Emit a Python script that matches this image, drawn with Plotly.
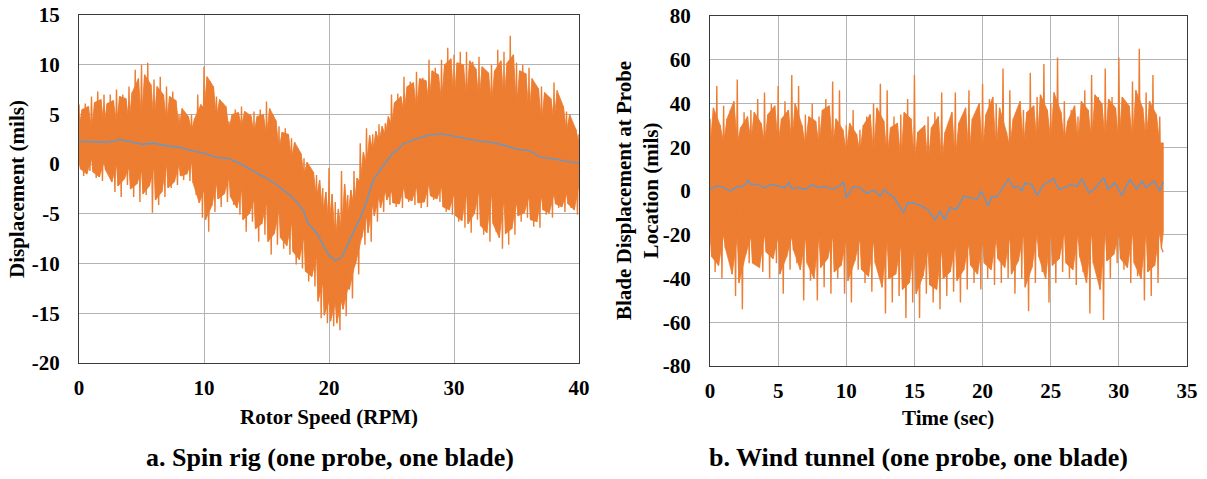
import plotly.graph_objects as go

# ---------------- Left panel: Spin rig ----------------
spin_mean_x = [0, 1, 2, 3, 3.2, 4, 5, 6, 7, 8, 9, 10, 11, 12, 13, 14, 15, 16, 17, 17.5,
               18, 18.3, 19, 20, 20.5, 21, 21.5, 22, 22.5, 23, 23.5, 24, 24.5, 25, 25.5,
               26, 27, 28, 29, 30, 31, 32, 33, 34, 35, 36, 37, 38, 39, 40]
spin_mean_y = [2.28, 2.25, 2.2, 2.35, 2.5, 2.3, 2.0, 2.1, 1.85, 1.7, 1.35, 1.1, 0.67, 0.55,
               0.0, -0.74, -1.4, -2.25, -3.25, -3.9, -4.8, -5.9, -6.9, -9.2, -9.7, -9.4,
               -8.1, -6.8, -5.4, -3.8, -1.7, -0.74, 0.1, 0.94, 1.44, 2.1, 2.55, 2.95, 3.05,
               2.8, 2.55, 2.35, 2.2, 1.9, 1.5, 1.35, 0.67, 0.54, 0.27, 0.1]

spin_core_x = [0, 1, 2, 3, 4, 5, 6, 7, 8, 9, 10, 11, 12, 13, 14, 15, 16, 17, 18, 19, 19.5,
               20, 20.5, 21, 21.5, 22, 22.5, 23, 23.5, 24, 24.5, 25, 26, 27, 28, 29, 30,
               31, 32, 33, 34, 35, 36, 37, 38, 39, 40]
spin_core_hi = [3.8, 3.4, 3.9, 4.1, 4.3, 4.6, 4.3, 4.3, 3.8, 3.4, 5.6, 4.8, 3.6, 3.8, 3.2,
                2.9, 1.6, 0.6, -1.0, -3.3, -4.8, -6.0, -7.6, -6.8, -5.4, -4.1, -1.8,
                0.0, 1.3, 2.3, 3.0, 4.0, 5.2, 5.6, 6.2, 6.4, 6.5, 6.7, 6.4, 6.2, 6.4,
                5.8, 5.0, 4.3, 4.3, 3.3, 2.1]
spin_core_lo = [0.2, 0.5, 0.2, -0.1, -0.4, -0.7, -0.4, -0.1, -0.1, 0.2, -2.6,
                -2.0, -1.4, -2.6, -3.6, -3.9, -4.6, -5.9, -7.3, -9.3, -12.0, -13.8, -14.0,
                -13.8, -12.5, -10.5, -7.9, -5.3, -4.0, -3.3, -2.7, -2.7, -2.3, -2.3, -2.0,
                -2.3, -3.0, -3.0, -2.7, -3.0, -3.6, -3.9, -3.3, -3.3, -3.0, -3.0, -2.0]

# tallest spike in each half RPM (upward)
spin_peak_x = [0.5 * k for k in range(81)]
spin_peak_y = [6.0, 6.1, 6.8, 7.3, 7.0, 7.0, 7.5, 7.0, 7.8, 9.5, 10.0, 10.2, 8.5, 8.8, 7.8,
               7.3, 5.0, 5.0, 5.0, 7.0, 9.8, 8.3, 6.8, 6.1, 4.3, 5.5, 5.8, 4.8, 5.3, 5.5,
               6.3, 5.0, 3.8, 3.6, 2.6, 1.6, 0.6, -2.1, -1.1, -2.4, -0.4, -3.8, -0.7, -3.1,
               -0.7, 2.1, 3.6, 3.0, 4.0, 4.1, 7.0, 7.1, 8.8, 8.3, 9.3, 8.7, 10.5, 9.7, 10.5,
               11.7, 11.0, 11.3, 11.3, 10.3, 10.8, 8.5, 10.0, 11.5, 11.3, 12.9, 10.2, 10.0,
               9.7, 7.8, 7.8, 6.0, 8.2, 6.3, 5.3, 3.5, 3.0]
# deepest spike in each half RPM (downward)
spin_trough_x = [0.375 + 0.5 * k for k in range(80)]
spin_trough_y = [-1.2, -0.7, -1.4, -1.7, -0.9, -2.8, -3.3, -2.1, -3.3, -3.8, -3.1, -4.9,
                 -4.1, -3.3, -2.4, -2.1, -1.6, -1.7, -3.1, -5.4, -6.8, -4.8, -4.3, -3.8,
                 -4.1, -5.1, -6.8, -5.8, -7.8, -7.1, -9.1, -8.1, -8.5, -9.1, -10.1, -10.5,
                 -11.8, -12.3, -15.5, -16.0, -16.3, -16.7, -15.3, -13.5, -11.1, -8.1, -7.8,
                 -5.8, -4.8, -4.1, -4.3, -4.4, -3.8, -4.1, -4.4, -4.3, -3.6, -3.8, -4.8,
                 -5.1, -5.8, -6.4, -6.9, -5.6, -7.1, -7.8, -6.8, -8.5, -8.1, -7.1, -5.8,
                 -5.4, -6.3, -6.4, -5.1, -5.4, -4.4, -4.8, -4.4, -5.1]
# smaller spikes seen between the big ones
spin_minor_peak_x = [0.25 + 0.5 * k for k in range(80)]
spin_minor_peak_y = [5.5, 5.8, 6.2, 6.5, 6.1, 6.4, 6.8, 6.6,
                     7.2, 8.6, 9.0, 8.0, 7.8, 7.0, 6.8, 6.4,
                     5.6, 4.8, 4.6, 6.0, 8.8, 7.8, 6.5, 5.8,
                     5.0, 5.2, 5.3, 4.9, 4.8, 5.0, 5.6, 4.4,
                     3.2, 3.0, 2.2, 1.1, 0.2, -0.8, -1.6, -2.8,
                     -3.0, -4.5, -2.0, -2.6, -1.4, 1.2, 2.9, 3.3,
                     3.8, 4.8, 6.2, 6.8, 7.8, 8.2, 8.6, 8.4,
                     9.4, 9.0, 10.0, 10.6, 10.2, 10.0, 10.4, 9.6,
                     9.8, 9.2, 9.4, 10.4, 10.2, 11.0, 9.4, 9.1,
                     8.6, 7.6, 7.2, 6.6, 7.4, 5.8, 5.0, 3.5]
spin_minor_trough_x = [0.125 + 0.5 * k for k in range(80)]
spin_minor_trough_y = [-0.5, -1.0, -0.8, -1.3, -0.6, -1.8, -2.2, -1.5,
                       -2.5, -2.0, -3.0, -2.2, -3.6, -2.8, -2.4, -1.8,
                       -1.2, -1.0, -1.9, -3.9, -5.6, -4.2, -3.5, -3.0,
                       -3.3, -4.4, -5.6, -5.0, -6.5, -6.0, -7.8, -7.0,
                       -7.4, -8.2, -8.8, -9.6, -10.8, -11.3, -13.8, -15.2,
                       -15.8, -16.0, -14.6, -12.6, -10.0, -7.4, -6.9, -5.2,
                       -4.4, -3.6, -3.9, -4.0, -3.4, -3.7, -3.9, -3.8,
                       -3.2, -3.5, -4.3, -4.6, -5.2, -5.7, -6.0, -5.0,
                       -6.2, -6.9, -6.0, -7.4, -7.0, -6.5, -5.2, -4.9,
                       -5.6, -5.8, -4.6, -4.9, -4.0, -4.3, -4.0, -4.6]

spin_xticks = [0, 10, 20, 30, 40]
spin_xtext = ["0", "10", "20", "30", "40"]
spin_yticks = [-20, -15, -10, -5, 0, 5, 10, 15]
spin_ytext = ["-20", "-15", "-10", "-5", "0", "5", "10", "15"]

# ---------------- Right panel: Wind tunnel ----------------
wind_mean_t = [0, 0.5, 1, 1.5, 2, 2.5, 2.8, 3, 3.5, 4, 4.5, 5, 5.5, 5.8, 6, 6.5, 7, 7.5,
               8, 8.5, 9, 9.5, 9.8, 10, 10.5, 11, 11.5, 12, 12.5, 12.8, 13, 13.5, 14,
               14.2, 14.5, 15, 15.5, 16, 16.5, 16.9, 17.2, 17.6, 18.1, 18.6, 19.1, 19.6,
               19.9, 20.4, 20.7, 21.0, 21.4, 21.9, 22.3, 22.6, 22.9, 23.1, 23.6, 24.0,
               24.5, 25.2, 25.6, 26.0, 26.5, 26.9, 27.3, 27.8, 28.2, 28.9, 29.2, 29.7,
               30.2, 30.8, 31.3, 31.7, 32.0, 32.6, 33.0, 33.26]
wind_mean_y = [0.8, 2.3, 1.5, 0.0, 2.0, 2.3, 5.0, 3.0, 3.0, 1.5, 3.0, 2.3, 1.5, 3.8, 1.0,
               1.5, 0.8, 3.0, 1.5, 2.0, 0.8, 2.3, 4.1, -3.0, 2.0, 1.5, -1.1, 0.5, -2.3,
               0.8, -0.8, -3.0, -7.6, -9.9, -5.3, -5.6, -6.9, -8.4, -13.3, -9.1, -13.3,
               -7.6, -8.4, -2.3, -3.0, -3.8, 0.0, -6.9, -2.3, -3.0, 0.8, 5.6, 1.5, 2.3,
               0.0, 3.5, 3.0, -2.0, 3.0, 5.6, 0.8, 1.5, 3.0, 2.0, 5.6, -0.8, 0.8, 6.1,
               0.8, 3.8, -2.0, 5.3, 1.0, 4.6, 1.5, 4.6, 0.0, 4.1]

wind_core_t = [0, 1, 2, 3, 4, 5, 6, 7, 8, 9, 10, 11, 12, 13, 14, 15, 16, 17, 18, 19, 20,
               21, 22, 23, 24, 25, 26, 27, 28, 29, 30, 31, 32, 33, 33.26]
wind_core_hi = [20, 22, 22, 23, 22, 22, 22, 21, 21, 20, 18, 18, 17, 16, 14, 13, 12, 12,
                14, 16, 18, 18, 20, 21, 22, 23, 23, 22, 23, 23, 22, 23, 23, 22, 22]
wind_core_lo = [-20, -20, -21, -21, -20, -21, -21, -21, -21, -21, -22, -22, -23, -23,
                -25, -26, -27, -27, -25, -24, -23, -22, -21, -20, -20, -19, -19, -20,
                -19, -19, -20, -19, -19, -19, -19]

wind_peak_t = [0.5 * k for k in range(67)]
wind_peak_y = [33, 48, 39, 37, 51, 36, 37, 42, 45, 40, 48, 41, 53, 48, 35, 40, 34, 42, 50,
               46, 30, 37, 28, 34, 40, 49, 46, 34, 35, 42, 53, 28, 34, 36, 45, 30, 45, 34,
               46, 31, 49, 42, 40, 56, 46, 30, 37, 54, 43, 58, 40, 61, 41, 37, 34, 46, 53,
               43, 56, 43, 61, 40, 50, 65, 45, 53, 34]
wind_trough_t = [0.375 + 0.5 * k for k in range(66)] + [33.25]
wind_trough_y = [-37, -40, -27, -48, -54, -33, -31, -37, -40, -33, -47, -36, -33, -50,
                 -41, -50, -44, -47, -40, -47, -51, -36, -42, -46, -36, -56, -51, -48,
                 -58, -51, -58, -47, -51, -54, -48, -46, -51, -45, -42, -45, -40, -43,
                 -42, -40, -47, -40, -55, -42, -37, -51, -42, -37, -40, -43, -37, -56,
                 -37, -59, -40, -33, -36, -42, -39, -50, -48, -42, -28]
wind_minor_peak_t = [0.25 + 0.5 * k for k in range(66)]
wind_minor_peak_y = [38, 30, 33, 41, 29, 34, 36, 31, 35, 39,
                     33, 37, 40, 30, 34, 32, 37, 39, 33, 28,
                     31, 26, 30, 35, 38, 32, 29, 31, 36, 33,
                     27, 30, 29, 34, 27, 36, 31, 38, 33, 40,
                     35, 43, 38, 27, 33, 41, 36, 39, 44, 37,
                     45, 36, 32, 39, 41, 37, 44, 40, 42, 38,
                     43, 39, 46, 38, 41, 35]
wind_minor_trough_t = [0.125 + 0.5 * k for k in range(67)]
wind_minor_trough_y = [-30, -34, -26, -38, -42, -29, -33, -35, -28, -31,
                       -38, -30, -27, -36, -33, -40, -35, -31, -37, -34,
                       -41, -32, -36, -39, -33, -44, -40, -38, -45, -42,
                       -47, -39, -43, -45, -40, -37, -41, -36, -34, -38,
                       -33, -36, -31, -35, -38, -32, -44, -35, -30, -40,
                       -34, -31, -33, -36, -30, -42, -33, -45, -32, -29,
                       -31, -35, -33, -40, -37, -34, -26]

wind_xticks = [0, 5, 10, 15, 20, 25, 30, 35]
wind_xtext = ["0", "5", "10", "15", "20", "25", "30", "35"]
wind_yticks = [-80, -60, -40, -20, 0, 20, 40, 60, 80]
wind_ytext = ["-80", "-60", "-40", "-20", "0", "20", "40", "60", "80"]

captions = ["a. Spin rig (one probe, one blade)", "b. Wind tunnel (one probe, one blade)"]

ORANGE = "#ED7D31"
BLUE = "#5B9BD5"
FONT = "Liberation Serif"
W, H = 1207, 479


def merged(*pairs):
    pts = []
    for xs, ys in pairs:
        pts += list(zip(xs, ys))
    pts.sort()
    return [p[0] for p in pts], [p[1] for p in pts]


fig = go.Figure()


def add_panel(core_x, core_hi, core_lo, peaks, troughs, mpeaks, mtroughs, mx, my, xa, ya):
    # dense body of the signal: outline follows the smaller spikes
    ux, uy = merged((core_x, core_hi), mpeaks)
    lx, ly = merged((core_x, core_lo), mtroughs)
    fig.add_trace(go.Scatter(
        x=ux + lx[::-1], y=uy + ly[::-1],
        fill="toself", fillcolor=ORANGE, line=dict(width=0.8, color=ORANGE),
        mode="lines", hoverinfo="skip", showlegend=False, xaxis=xa, yaxis=ya))
    zx, zy = merged(peaks, troughs, mpeaks, mtroughs)
    fig.add_trace(go.Scatter(x=zx, y=zy, mode="lines",
                             line=dict(color=ORANGE, width=1.4),
                             showlegend=False, xaxis=xa, yaxis=ya))
    fig.add_trace(go.Scatter(x=mx, y=my, mode="lines",
                             line=dict(color=BLUE, width=1.3),
                             showlegend=False, xaxis=xa, yaxis=ya))


add_panel(spin_core_x, spin_core_hi, spin_core_lo,
          (spin_peak_x, spin_peak_y), (spin_trough_x, spin_trough_y),
          (spin_minor_peak_x, spin_minor_peak_y), (spin_minor_trough_x, spin_minor_trough_y),
          spin_mean_x, spin_mean_y, "x", "y")
add_panel(wind_core_t, wind_core_hi, wind_core_lo,
          (wind_peak_t, wind_peak_y), (wind_trough_t, wind_trough_y),
          (wind_minor_peak_t, wind_minor_peak_y), (wind_minor_trough_t, wind_minor_trough_y),
          wind_mean_t, wind_mean_y, "x2", "y2")

tickfont = dict(family=FONT, size=21, color="black", weight="bold")
axis_common = dict(showgrid=True, gridcolor="#b3b3b3", gridwidth=1,
                   showline=True, linecolor="#3a3a3a", linewidth=1, mirror=True,
                   zeroline=False, tickfont=tickfont, ticks="outside",
                   tickcolor="rgba(0,0,0,0)", fixedrange=True, automargin=False)

fig.update_layout(
    width=W, height=H, margin=dict(l=0, r=0, t=0, b=0, autoexpand=False),
    paper_bgcolor="white", plot_bgcolor="white", showlegend=False,
    xaxis=dict(domain=[79 / W, 579 / W], range=[0, 40], tickvals=spin_xticks,
               ticktext=spin_xtext, anchor="y", ticklen=6, **axis_common),
    yaxis=dict(domain=[1 - 363 / H, 1 - 15 / H], range=[-20, 15], tickvals=spin_yticks,
               ticktext=spin_ytext, anchor="x", ticklen=14, **axis_common),
    xaxis2=dict(domain=[710 / W, 1187 / W], range=[0, 35], tickvals=wind_xticks,
                ticktext=wind_xtext, anchor="y2", ticklen=6, **axis_common),
    yaxis2=dict(domain=[1 - 366 / H, 1 - 16 / H], range=[-80, 80], tickvals=wind_yticks,
                ticktext=wind_ytext, anchor="x2", ticklen=14, **axis_common),
)

title_font = dict(family=FONT, size=21, color="black", weight="bold")
cap_font = dict(family=FONT, size=26, color="black", weight="bold")


def ann(text, x, y, font, angle=0):
    fig.add_annotation(text=text, x=x / W, y=1 - y / H, xref="paper", yref="paper",
                       showarrow=False, xanchor="center", yanchor="middle",
                       textangle=angle, font=font)


ann("Rotor Speed (RPM)", 329, 417, title_font)
ann("Time (sec)", 948, 418, title_font)
ann("Displacement (mils)", 17, 189, title_font, -90)
ann("Blade Displacement at Probe<br>Location (mils)", 638, 191, title_font, -90)
ann(captions[0], 330, 457, cap_font)
ann(captions[1], 918, 457, cap_font)

fig.write_html("out.html", config={"displayModeBar": False},
               post_script="document.body.style.margin='0';document.body.style.overflow='hidden';")
